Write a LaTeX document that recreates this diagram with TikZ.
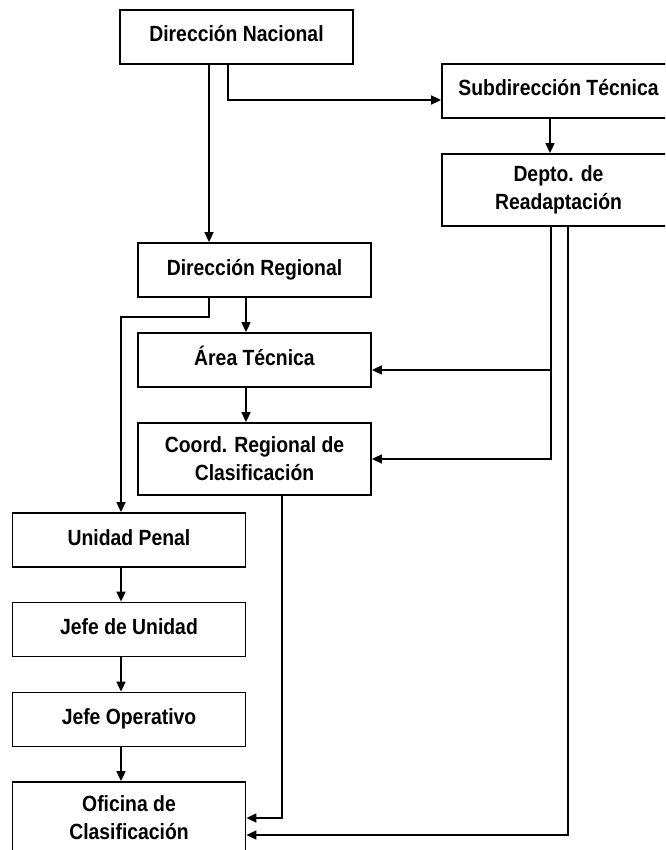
\documentclass[tikz,border=0pt]{standalone}
\usepackage{fontspec}
\setmainfont{Liberation Sans}[FakeStretch=0.88]
\usetikzlibrary{arrows.meta}

\tikzset{
  unitbase/.style={draw, line width=1.8pt, minimum width=233pt,
    inner sep=2pt, align=center, font=\fontsize{22}{28}\selectfont\bfseries},
  unit/.style={unitbase, minimum height=54pt, text height=16pt, text depth=6pt},
  unitdbl/.style={unitbase, minimum height=72pt},
  link/.style={line width=1.6pt, -{Triangle[length=10pt,width=9pt]}}
}

\begin{document}
\begin{tikzpicture}[x=1pt, y=-1pt]
\useasboundingbox (0,0) rectangle (665,850);
\clip (0,0) rectangle (665,850);

%National level
\node [unit] (nac) at (236.5, 37) {Dirección Nacional};
\node [unit] (sub) at (558.5, 91) {Subdirección Técnica};
\node [unitdbl] (dep) at (558.5, 190) {Depto. de\\Readaptación};

%Regional level
\node [unit] (reg) at (254.5, 270) {Dirección Regional};
\node [unit] (area) at (254.5, 360) {Área Técnica};
\node [unitdbl] (coord) at (254.5, 459) {Coord. Regional de\\Clasificación};

%Penal unit
\node [unit] (pen) at (129, 540) {Unidad Penal};
\node [unit] (jud) at (129, 629.5) {Jefe de Unidad};
\node [unit] (jop) at (129, 719.5) {Jefe Operativo};
\node [unitdbl] (ofi) at (129, 818) {Oficina de\\Clasificación};

%Arrows from the top
\draw [link] ([xshift=-27.5pt]nac.south) -- ([xshift=-27.5pt]nac.south |- reg.north);
\draw [link] ([xshift=-8.5pt]nac.south) |- ([yshift=-9pt]sub.west);
\draw [link] ([xshift=-8.5pt]sub.south) -- ([xshift=-8.5pt]sub.south |- dep.north);

%Regional chain
\draw [link] ([xshift=-8.5pt]reg.south) -- ([xshift=-8.5pt]area.north);
\draw [link] ([xshift=-8.5pt]area.south) -- ([xshift=-8.5pt]coord.north);
\draw [link] ([xshift=-45.5pt]reg.south) -- ++(0,19) -| ([xshift=-8pt]pen.north);

%Unit chain
\draw [link] ([xshift=-8pt]pen.south) -- ([xshift=-8pt]jud.north);
\draw [link] ([xshift=-8pt]jud.south) -- ([xshift=-8pt]jop.north);
\draw [link] ([xshift=-8pt]jop.south) -- ([xshift=-8pt]ofi.north);

%Lines from Readaptacion
\coordinate (deptap) at ([xshift=-7.5pt]dep.south);
\coordinate (areain) at ([yshift=-10pt]area.east);
\coordinate (ofiin) at ([yshift=-17pt]ofi.east);
\draw [link] (deptap) |- (coord.east);
\draw [link] (deptap |- areain) -- (areain);
\draw [link] ([xshift=9.5pt]dep.south) |- (ofiin);
\draw [link] ([xshift=27.5pt]coord.south) |- (ofi.east);

\end{tikzpicture}
\end{document}
